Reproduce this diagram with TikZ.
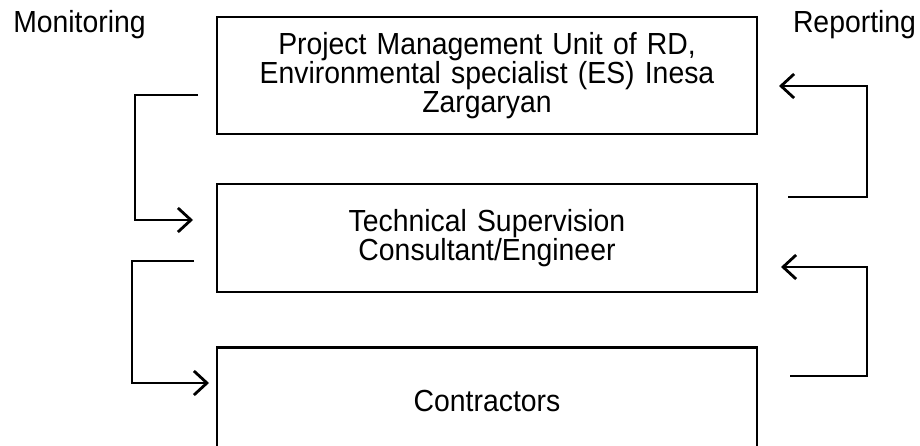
\documentclass[tikz,border=0pt]{standalone}
\usepackage{fontspec}
\setmainfont{Liberation Sans}[FakeStretch=0.93]
\usetikzlibrary{positioning}
\usetikzlibrary{arrows.meta,calc}
\tikzset{
  basic/.style  = {draw, line width=2.2pt, rectangle, font=\fontsize{30.5}{28.8}\selectfont},
  level 1/.style = {basic, align=center, text width=520pt, minimum width=540pt, inner sep=0pt},
  side/.style = {font=\fontsize{30.5}{28.8}\selectfont, anchor=base, inner sep=0pt},
  bracket/.style = {line width=2.8pt},
  flow/.style = {bracket, -{Straight Barb[length=13pt,width=24pt]}}
}

\begin{document}
\begin{tikzpicture}[x=1pt,y=-1pt]
\useasboundingbox (0,0) rectangle (920,446);
\node[level 1, minimum height=117pt] (pmu) at (487,75.5) {Project Management Unit of RD,\\ Environmental specialist (ES) Inesa\\ Zargaryan};
\node[level 1, minimum height=108pt, below=48pt of pmu] (tsc) {Technical Supervision\\ Consultant/Engineer};
\node[level 1, minimum height=108pt, below=53pt of tsc] (con) {Contractors};

\node[side] (mon) at (79.5,33) {Monitoring};
\node[side] (rep) at (854.5,33) {Reporting};

% monitoring, left side
\coordinate (m1) at (198,95);
\coordinate (m2) at (193,220);
\coordinate (m3) at (194,261);
\coordinate (m4) at (209,383);
\draw[flow] (m1) -- (135,95) -- (135,220) -- (m2);
\draw[flow] (m3) -- (132,261) -- (132,383) -- (m4);

% reporting, right side
\coordinate (r1) at (788,197);
\coordinate (r2) at (779,86);
\coordinate (r3) at (790,376);
\coordinate (r4) at (781,267);
\draw[flow] (r1) -- (867,197) -- (867,86) -- (r2);
\draw[flow] (r3) -- (867,376) -- (867,267) -- (r4);

\end{tikzpicture}
\end{document}
